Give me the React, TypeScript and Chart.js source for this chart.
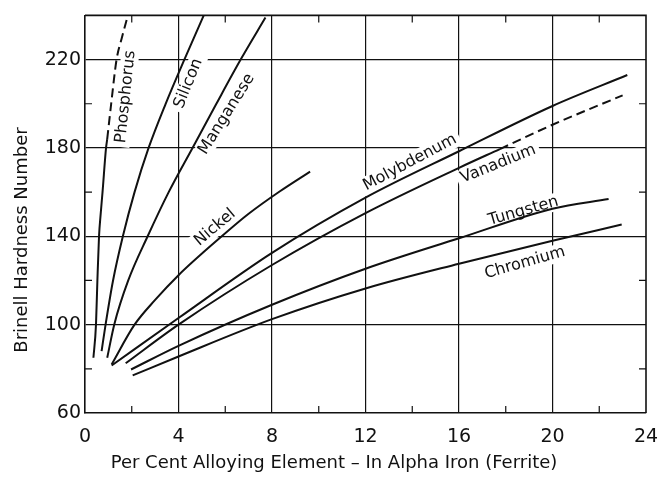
import React, { useEffect, useRef } from 'react';
import { Chart, registerables } from 'chart.js';

Chart.register(...registerables);

// ---- data (Brinell hardness vs per cent alloying element) ----
const phosphorusSolidX = [0.36, 0.47, 0.53, 0.6, 0.67, 0.75, 0.9, 0.95];
const phosphorusSolidY = [85, 100, 120, 140, 150, 160, 180, 184];
const phosphorusDashX = [0.95, 1.12, 1.35, 1.58, 1.82];
const phosphorusDashY = [184, 200, 220, 230, 239.5];
const siliconX = [0.71, 0.88, 1.2, 1.62, 2.12, 2.72, 3.45, 4.25, 5.08];
const siliconY = [88, 100, 120, 140, 160, 180, 200, 220, 240];
const manganeseX = [0.95, 1.25, 1.85, 2.68, 3.58, 4.6, 5.62, 6.66, 7.72];
const manganeseY = [85, 100, 120, 140, 160, 180, 200, 220, 239];
const nickelX = [1.14, 2.12, 3, 4, 5.85, 7, 8.34, 9.63];
const nickelY = [82, 100, 111.2, 122.4, 140, 150.2, 160.4, 169.3];
const molybdenumX = [1.14, 4, 8, 12, 16, 20, 23.2];
const molybdenumY = [81.5, 103, 132.5, 157.5, 178.5, 199, 213];
const vanadiumSolidX = [1.74, 4, 8, 12, 16, 17.75];
const vanadiumSolidY = [82.5, 100, 127, 150.5, 171, 179.5];
const vanadiumDashX = [17.75, 20, 23];
const vanadiumDashY = [179.5, 190.5, 203.8];
const tungstenX = [1.97, 4, 8, 12, 16, 20, 22.4];
const tungstenY = [79.7, 90.4, 109, 125.3, 139.1, 152.5, 156.9];
const chromiumX = [2.04, 4, 8, 12, 16, 20, 22.96];
const chromiumY = [77, 85.6, 102.5, 116.4, 127.6, 138, 145.3];

const xMajorTicks = [0, 4, 8, 12, 16, 20, 24];
const xMinorTicks = [2, 6, 10, 14, 18, 22];
const yMajorTicks = [60, 100, 140, 180, 220];
const yMinorTicks = [80, 120, 160, 200];

const curveNames = ['Phosphorus', 'Silicon', 'Manganese', 'Nickel', 'Molybdenum', 'Vanadium', 'Tungsten', 'Chromium'];
const curveLabelX = [1.74, 4.42, 6.06, 5.56, 13.9, 17.68, 18.75, 18.82];
const curveLabelY = [203.2, 209.2, 195.3, 144, 173.4, 172.7, 151.4, 128];
const curveLabelAngle = [-84, -68, -58, -40, -28, -22, -16, -16];

const xTitle = 'Per Cent Alloying Element – In Alpha Iron (Ferrite)';
const yTitle = 'Brinell Hardness Number';

const FONT = '"DejaVu Sans", sans-serif';
const INK = '#111';

const pts = (xs: number[], ys: number[]) => xs.map((x, i) => ({ x, y: ys[i] }));

export default function App() {
  const ref = useRef<HTMLCanvasElement | null>(null);

  useEffect(() => {
    if (!ref.current) return;
    const line = (xs: number[], ys: number[], dashed = false) => ({
      data: pts(xs, ys),
      showLine: true,
      borderColor: INK,
      borderWidth: 2,
      pointRadius: 0,
      cubicInterpolationMode: 'monotone',
      borderDash: dashed ? [9, 5] : [],
      fill: false,
    });

    const decor = {
      id: 'decor',
      beforeDatasetsDraw(chart: any) {
        const { ctx, scales } = chart;
        ctx.save();
        ctx.font = `16px ${FONT}`;
        curveNames.forEach((t, i) => {
          const px = scales.x.getPixelForValue(curveLabelX[i]);
          const py = scales.y.getPixelForValue(curveLabelY[i]);
          const w = ctx.measureText(t).width;
          ctx.save();
          ctx.translate(px, py);
          ctx.rotate((curveLabelAngle[i] * Math.PI) / 180);
          ctx.fillStyle = '#fff';
          ctx.fillRect(-w / 2 - 4, -9, w + 8, 18);
          ctx.restore();
        });
        ctx.restore();
      },
      afterDatasetsDraw(chart: any) {
        const { ctx, scales, chartArea } = chart;
        const { left, right, top, bottom } = chartArea;
        ctx.save();
        ctx.strokeStyle = INK;
        ctx.lineWidth = 1.6;
        ctx.beginPath();
        ctx.moveTo(left, top);
        ctx.lineTo(right, top);
        ctx.lineTo(right, bottom);
        ctx.stroke();
        ctx.lineWidth = 1.2;
        const tl = 7;
        xMinorTicks.forEach((v) => {
          const px = scales.x.getPixelForValue(v);
          ctx.beginPath();
          ctx.moveTo(px, bottom);
          ctx.lineTo(px, bottom - tl);
          ctx.moveTo(px, top);
          ctx.lineTo(px, top + tl);
          ctx.stroke();
        });
        yMinorTicks.forEach((v) => {
          const py = scales.y.getPixelForValue(v);
          ctx.beginPath();
          ctx.moveTo(left, py);
          ctx.lineTo(left + tl, py);
          ctx.moveTo(right, py);
          ctx.lineTo(right - tl, py);
          ctx.stroke();
        });
        // curve labels
        ctx.fillStyle = INK;
        ctx.font = `16px ${FONT}`;
        ctx.textAlign = 'center';
        ctx.textBaseline = 'middle';
        curveNames.forEach((t, i) => {
          const px = scales.x.getPixelForValue(curveLabelX[i]);
          const py = scales.y.getPixelForValue(curveLabelY[i]);
          ctx.save();
          ctx.translate(px, py);
          ctx.rotate((curveLabelAngle[i] * Math.PI) / 180);
          ctx.fillText(t, 0, 0);
          ctx.restore();
        });
        // axis titles
        ctx.font = `18px ${FONT}`;
        ctx.fillText(xTitle, 334, 463);
        ctx.save();
        ctx.translate(22, 240);
        ctx.rotate(-Math.PI / 2);
        ctx.fillText(yTitle, 0, 0);
        ctx.restore();
        ctx.restore();
      },
    };

    const chart = new Chart(ref.current, {
      type: 'scatter',
      data: {
        datasets: [
          line(phosphorusSolidX, phosphorusSolidY),
          line(phosphorusDashX, phosphorusDashY, true),
          line(siliconX, siliconY),
          line(manganeseX, manganeseY),
          line(nickelX, nickelY),
          line(molybdenumX, molybdenumY),
          line(vanadiumSolidX, vanadiumSolidY),
          line(vanadiumDashX, vanadiumDashY, true),
          line(tungstenX, tungstenY),
          line(chromiumX, chromiumY),
        ] as any,
      },
      options: {
        responsive: false,
        animation: false,
        layout: { padding: { top: 10, right: 26, left: 0, bottom: 0 } },
        plugins: { legend: { display: false }, tooltip: { enabled: false } },
        scales: {
          x: {
            type: 'linear',
            min: 0,
            max: 24,
            ticks: {
              stepSize: 2,
              autoSkip: false,
              maxRotation: 0,
              color: INK,
              padding: 13,
              font: { family: FONT, size: 19 },
              callback: (v: any) => (xMajorTicks.includes(Number(v)) ? String(v) : ''),
            },
            grid: {
              drawTicks: false,
              lineWidth: 1.2,
              color: (c: any) =>
                c.tick && xMajorTicks.includes(c.tick.value) && c.tick.value !== 0 && c.tick.value !== 24
                  ? INK
                  : 'rgba(0,0,0,0)',
            },
            border: { display: true, color: INK, width: 1.6 },
            afterFit: (s: any) => {
              s.height = 65;
            },
          },
          y: {
            type: 'linear',
            min: 60,
            max: 240,
            ticks: {
              stepSize: 20,
              autoSkip: false,
              color: INK,
              padding: 4,
              font: { family: FONT, size: 19 },
              callback: (v: any) => (yMajorTicks.includes(Number(v)) ? String(v) : ''),
            },
            grid: {
              drawTicks: false,
              lineWidth: 1.2,
              color: (c: any) =>
                c.tick && yMajorTicks.includes(c.tick.value) && c.tick.value !== 60 ? INK : 'rgba(0,0,0,0)',
            },
            border: { display: true, color: INK, width: 1.6 },
            afterFit: (s: any) => {
              s.width = 85;
            },
          },
        },
      } as any,
      plugins: [decor],
    });
    return () => chart.destroy();
  }, []);

  return (
    <div style={{ position: 'absolute', left: 0, top: 0, width: 672, height: 478, background: '#fff' }}>
      <canvas ref={ref} width={672} height={478} style={{ display: 'block' }} />
    </div>
  );
}
